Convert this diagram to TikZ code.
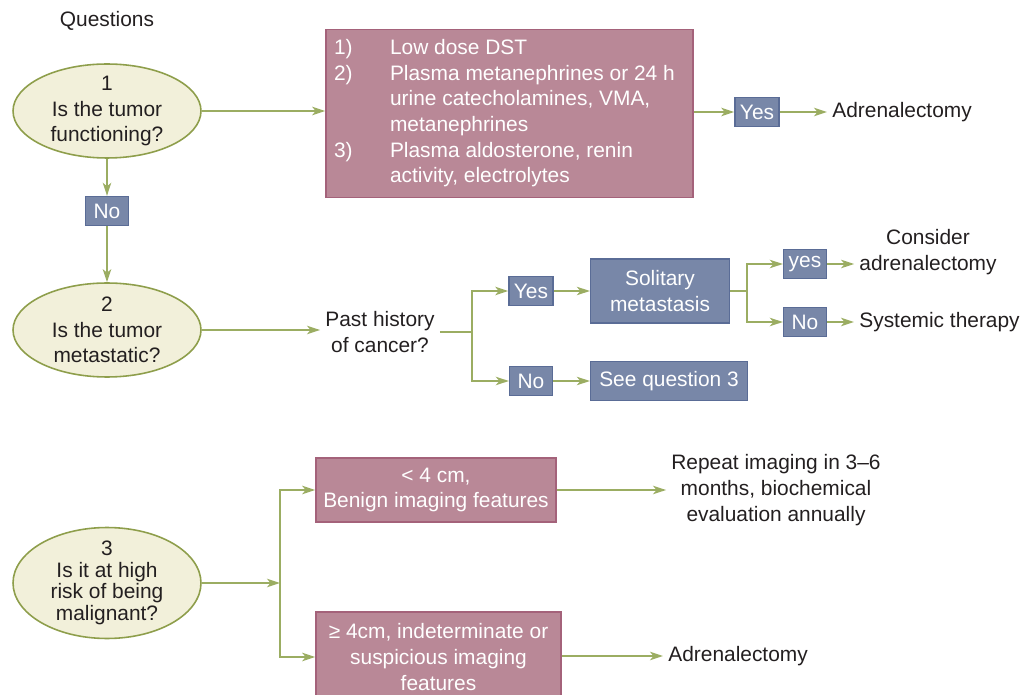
\documentclass[tikz,border=0pt]{standalone}
\usepackage{fontspec}
\setmainfont{Liberation Sans}
\usepackage{xcolor}
\definecolor{qcream}{RGB}{242,240,218}
\definecolor{qolive}{RGB}{142,158,75}
\definecolor{flowgreen}{RGB}{155,173,98}
\definecolor{testpink}{RGB}{185,136,151}
\definecolor{testpinkline}{RGB}{164,98,122}
\definecolor{ansblue}{RGB}{120,135,168}
\definecolor{ansblueline}{RGB}{90,108,150}
\definecolor{inkgrey}{RGB}{35,31,32}
\usepackage{tikz}
\usetikzlibrary{arrows.meta, positioning, shapes.geometric, calc}
\newcommand{\flowfont}{\fontsize{11.9}{14.6}\selectfont}

\tikzset{
  question/.style={ellipse, draw=qolive, fill=qcream, line width=0.9pt,
    minimum width=3.76cm, minimum height=1.88cm, inner sep=-3pt,
    align=center, text=inkgrey},
  testbox/.style={rectangle, draw=testpinkline, fill=testpink, line width=1pt,
    text=white, inner sep=0.14cm, align=center},
  answer/.style={rectangle, draw=ansblueline, fill=ansblue, line width=0.8pt,
    text=white, minimum height=0.58cm, minimum width=0.86cm,
    inner xsep=0.1cm, inner ysep=0pt, align=center},
  outcome/.style={text=inkgrey, align=center, inner sep=0.1cm},
  flow/.style={draw=flowgreen, line width=0.9pt,
    -{Stealth[length=2.6mm, width=1.7mm, inset=0.7mm]}},
  flowline/.style={draw=flowgreen, line width=0.9pt}
}

\begin{document}
\begin{tikzpicture}[x=0.02cm, y=-0.02cm, font=\flowfont]
  \useasboundingbox (0,0) rectangle (1023,695);

  \node[outcome] (qhead) at (107,21) {Questions};

  % Question 1: functioning
  \node[question] (q1) at (107,111) {1\\Is the tumor\\functioning?};
  \node[testbox, minimum width=7.34cm, minimum height=3.34cm] (tests) at (509.5,113.5)
    {\begin{tabular}{@{}p{1.12cm}@{}p{5.9cm}@{}}
      1) & Low dose DST\\
      2) & Plasma metanephrines or 24 h\\
         & urine catecholamines, VMA,\\
         & metanephrines\\
      3) & Plasma aldosterone, renin\\
         & activity, electrolytes
     \end{tabular}};
  \node[answer] (yes1) at (757,112) {Yes};
  \node[outcome, anchor=west] (adr1) at (827,112) {Adrenalectomy};
  \node[answer] (no1) at (107,211) {No};

  \draw[flow] (q1.east) -- (q1.east -| tests.west);
  \draw[flow] (tests.east |- yes1.west) -- (yes1.west);
  \draw[flow] (yes1.east) -- (adr1.west);
  \draw[flow] (q1.south) -- (no1.north);

  % Question 2: metastatic
  \node[question] (q2) at (107,330) {2\\Is the tumor\\metastatic?};
  \node[outcome] (history) at (380,332) {Past history\\of cancer?};
  \coordinate (hsplit) at (472,332);
  \node[answer] (yes2) at (531,291) {Yes};
  \node[answer, minimum width=2.78cm, minimum height=1.28cm] (solitary) at (660,291) {Solitary\\metastasis};
  \node[answer] (no2) at (531,381) {No};
  \node[answer, minimum width=3.14cm, minimum height=0.78cm] (see3) at (669,381) {See question 3};
  \coordinate (ssplit) at (747,291);
  \node[answer] (yes3) at (805,264) {yes};
  \node[answer] (no3) at (805,322) {No};
  \node[outcome] (consider) at (928,252) {Consider\\adrenalectomy};
  \node[outcome, anchor=west] (systemic) at (854,322) {Systemic therapy};

  \draw[flow] (no1.south) -- (q2.north);
  \draw[flow] (q2.east) -- (q2.east -| history.west);
  \draw[flowline] (history.east |- hsplit) -- (hsplit);
  \draw[flow] (hsplit) |- (yes2.west);
  \draw[flow] (hsplit) |- (no2.west);
  \draw[flow] (yes2.east) -- (solitary.west);
  \draw[flow] (no2.east) -- (see3.west);
  \draw[flowline] (solitary.east) -- (ssplit);
  \draw[flow] (ssplit) |- (yes3.west);
  \draw[flow] (ssplit) |- (no3.west);
  \draw[flow] (yes3.east) -- (yes3.east -| consider.west);
  \draw[flow] (no3.east) -- (systemic.west);

  % Question 3: malignancy risk
  \node[question, minimum height=2.22cm, font=\fontsize{11.9}{12.3}\selectfont] (q3) at (107,583)
    {3\\Is it at high\\risk of being\\malignant?};
  \coordinate (rsplit) at (280,583);
  \node[testbox, minimum width=4.8cm, minimum height=1.28cm] (small) at (436,490)
    {< 4 cm,\\Benign imaging features};
  \node[testbox, minimum width=4.9cm, minimum height=1.8cm] (large) at (438.5,657)
    {≥ 4cm, indeterminate or\\suspicious imaging\\features};
  \node[outcome] (repeat) at (776,490) {Repeat imaging in 3–6\\months, biochemical\\evaluation annually};
  \node[outcome, anchor=west] (adr2) at (663,656) {Adrenalectomy};

  \draw[flow] (q3.east) -- (rsplit);
  \draw[flow] (rsplit) |- (small.west);
  \draw[flow] (rsplit) |- (large.west);
  \draw[flow] (small.east) -- (small.east -| repeat.west);
  \draw[flow] (large.east |- adr2.west) -- (adr2.west);
\end{tikzpicture}
\end{document}
